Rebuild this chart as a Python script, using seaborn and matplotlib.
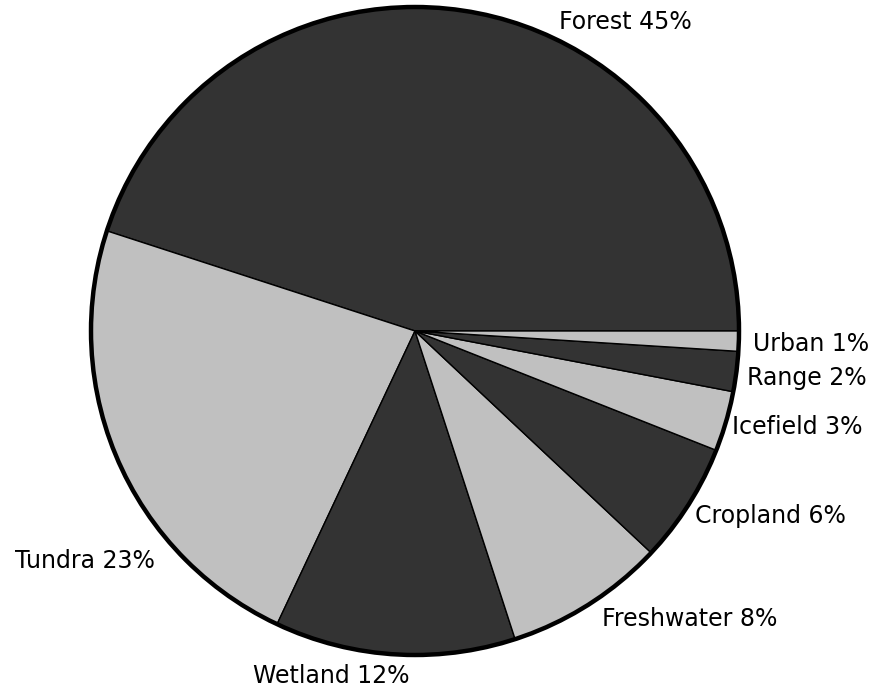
import matplotlib
matplotlib.use("Agg")
import matplotlib.pyplot as plt
import seaborn as sns
from matplotlib.patches import Circle

# ---- data ----
categories = ["Forest", "Tundra", "Wetland", "Freshwater", "Cropland", "Icefield", "Range", "Urban"]
shares = [45, 23, 12, 8, 6, 3, 2, 1]

# ---- style / layout ----
sns.set_theme(style="white")
plt.rcParams["font.family"] = ["DejaVu Sans"]
DARK, LIGHT = "#333333", "#c0c0c0"
colors = [DARK if i % 2 == 0 else LIGHT for i in range(len(categories))]

W, H = 871, 689
CX, CY, R = 415, 331, 324
# label anchor (pixel x, pixel baseline y, horizontal alignment)
label_layout = {
    "Forest": (559, 29, "left"),
    "Urban": (753, 351, "left"),
    "Range": (747, 385, "left"),
    "Icefield": (732, 434, "left"),
    "Cropland": (695, 523, "left"),
    "Freshwater": (602, 626, "left"),
    "Wetland": (253, 683, "left"),
    "Tundra": (155, 568, "right"),
}

fig = plt.figure(figsize=(W / 100, H / 100), dpi=100)
ax = fig.add_axes([0, 0, 1, 1])

ax.pie(shares, colors=colors, startangle=0, counterclock=True,
       center=(CX, H - CY), radius=R,
       wedgeprops=dict(edgecolor="black", linewidth=1.0), frame=True)
ax.set_xlim(0, W)
ax.set_ylim(0, H)
ax.set_aspect("equal")
ax.axis("off")
ax.add_patch(Circle((CX, H - CY), R, fill=False, edgecolor="black", linewidth=3.2, zorder=5))

for cat, val in zip(categories, shares):
    x, y, ha = label_layout[cat]
    ax.text(x, H - y, f"{cat} {val}%", ha=ha, va="baseline", fontsize=17, color="black")

fig.savefig("out.png", dpi=100, facecolor="white")
